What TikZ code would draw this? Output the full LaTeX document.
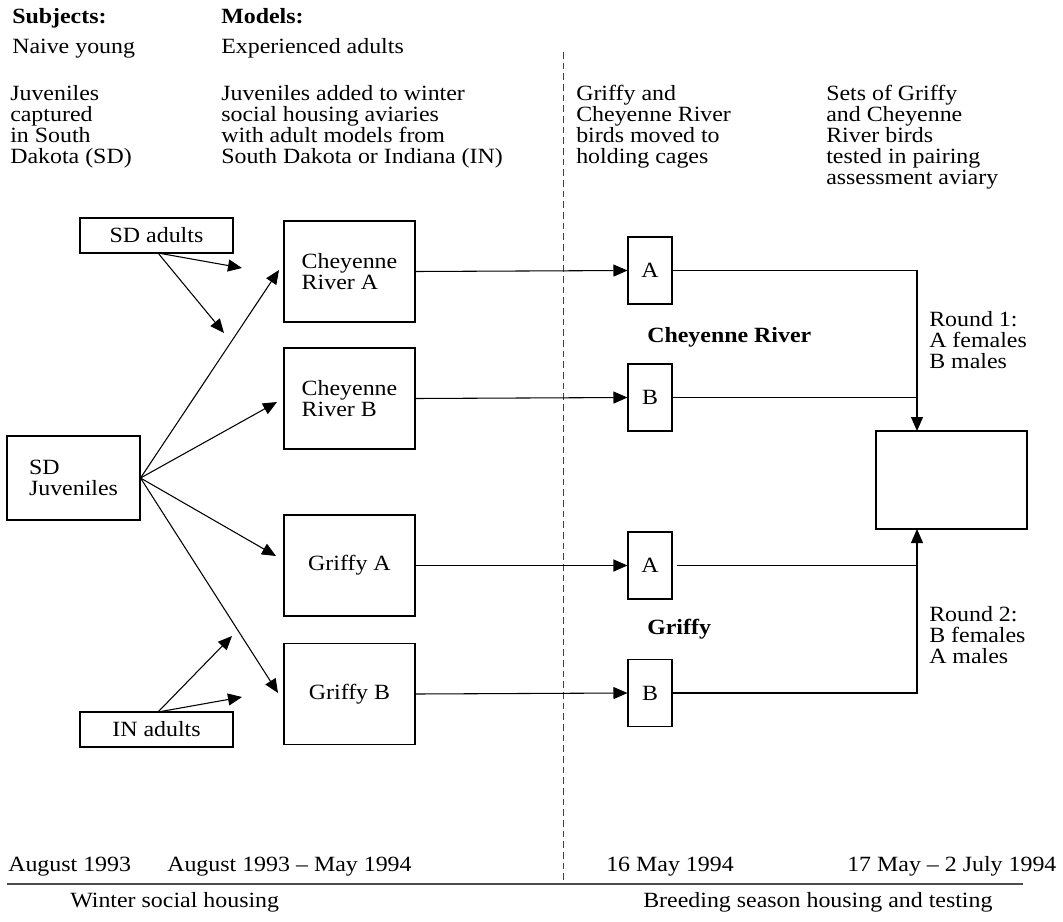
\documentclass[tikz,border=0pt]{standalone}
\usepackage{fontspec}
\setmainfont[FakeStretch=1.1]{Liberation Serif}
\usetikzlibrary{arrows.meta}
\newcommand{\diafont}{\fontsize{16.3pt}{15.75pt}\selectfont}
\begin{document}
\begin{tikzpicture}[x=0.75pt,y=-0.75pt,
  every node/.style={font=\diafont, inner sep=0pt},
  box/.style={draw, line width=0.8pt, align=left},
  adultbox/.style={box, minimum width=114.75pt, minimum height=26.25pt},
  avbox/.style={box, minimum width=98.25pt, minimum height=75.75pt},
  cagebox/.style={box, minimum width=33pt, minimum height=50.25pt},
  lbl/.style={anchor=base west, align=left},
  boldlbl/.style={lbl, font=\diafont\bfseries},
  conn/.style={line width=0.8pt},
  arr/.style={conn, -{Triangle[length=10.5pt, width=9pt]}}]
\useasboundingbox (0,0) rectangle (1063,921);

% header texts (multi-line nodes: base = last line)
\node[boldlbl] (hsub) at (12,23) {Subjects:};
\node[boldlbl] (hmod) at (221,23) {Models:};
\node[lbl] (tnaive) at (12,53) {Naive young};
\node[lbl] (texp) at (221,53) {Experienced adults};
\node[lbl] (tjuv) at (10,163) {Juveniles\\captured\\in South\\Dakota (SD)};
\node[lbl] (tadd) at (221,163) {Juveniles added to winter\\social housing aviaries\\with adult models from\\South Dakota or Indiana (IN)};
\node[lbl] (tmove) at (576,163) {Griffy and\\Cheyenne River\\birds moved to\\holding cages};
\node[lbl] (tsets) at (826,184) {Sets of Griffy\\and Cheyenne\\River birds\\tested in pairing\\assessment aviary};

% divider
\coordinate (dtop) at (563,52);
\coordinate (dbot) at (563,884);
\draw[line width=0.6pt, black!75, dash pattern=on 5pt off 3pt] (dtop) -- (dbot);

% boxes
\node[adultbox] (sda) at (156.5,235.5) {SD adults};
\node[adultbox] (ina) at (156.5,729.5) {IN adults};
\node[box, minimum width=99.75pt, minimum height=63pt] (sdj) at (73.5,478) {SD\\Juveniles};
\node[avbox] (cra) at (349.5,271.5) {Cheyenne\\River A};
\node[avbox] (crb) at (349.5,398.5) {Cheyenne\\River B};
\node[avbox] (gra) at (349.5,565.5) {Griffy A};
\node[avbox] (grb) at (349.5,694) {Griffy B};
\node[cagebox] (ca1) at (650,270.5) {A};
\node[cagebox] (cb1) at (650,397.5) {B};
\node[cagebox] (ca2) at (650,565.5) {A};
\node[cagebox] (cb2) at (650,693) {B};
\node[box, minimum width=113.25pt, minimum height=73.5pt] (avi) at (951.5,480) {};

% labels
\node[boldlbl] (lcr) at (647,342) {Cheyenne River};
\node[boldlbl] (lgr) at (647,634) {Griffy};
\node[lbl] (r1) at (929,368) {Round 1:\\A females\\B males};
\node[lbl] (r2) at (929,663) {Round 2:\\B females\\A males};

% free arrow ends
\coordinate (sdt1) at (242,268);
\coordinate (sdt2) at (224,333);
\coordinate (int1) at (232,636);
\coordinate (int2) at (242,697);
\coordinate (sds) at (158,253);
\coordinate (ins) at (158,712);
\coordinate (jta) at (279,270);
\coordinate (jtb) at (277,402);
\coordinate (jtc) at (276,556);
\coordinate (jtd) at (278,693);

\draw[arr] (sds) -- (sdt1);
\draw[arr] (sds) -- (sdt2);
\draw[arr] (ins) -- (int1);
\draw[arr] (ins) -- (int2);
\draw[arr] (sdj.east) -- (jta);
\draw[arr] (sdj.east) -- (jtb);
\draw[arr] (sdj.east) -- (jtc);
\draw[arr] (sdj.east) -- (jtd);

\draw[arr] (cra.east) -- (ca1.west);
\draw[arr] (crb.east) -- (cb1.west);
\draw[arr] (gra.east) -- (ca2.west);
\draw[arr] (grb.east) -- (cb2.west);

\coordinate (avt) at (917,431);
\coordinate (avb) at (917,529);
\draw[arr] (ca1.east) -| (avt);
\draw[conn] (cb1.east) -- (cb1.east -| avt);
\draw[conn] ([xshift=3pt]ca2.east) -- (ca2.east -| avb);
\draw[arr] (cb2.east) -| (avb);

% bottom timeline
\node[lbl] (d1) at (8,871) {August 1993};
\node[lbl] (d2) at (167,871) {August 1993 – May 1994};
\node[lbl] (d3) at (606,871) {16 May 1994};
\node[lbl] (d4) at (847,871) {17 May – 2 July 1994};
\coordinate (tl) at (7,884);
\coordinate (tr) at (1023,884);
\draw[line width=1pt, black!70] (tl) -- (tr);
\node[lbl] (p1) at (70,907) {Winter social housing};
\node[lbl] (p2) at (643,907) {Breeding season housing and testing};
\end{tikzpicture}
\end{document}
